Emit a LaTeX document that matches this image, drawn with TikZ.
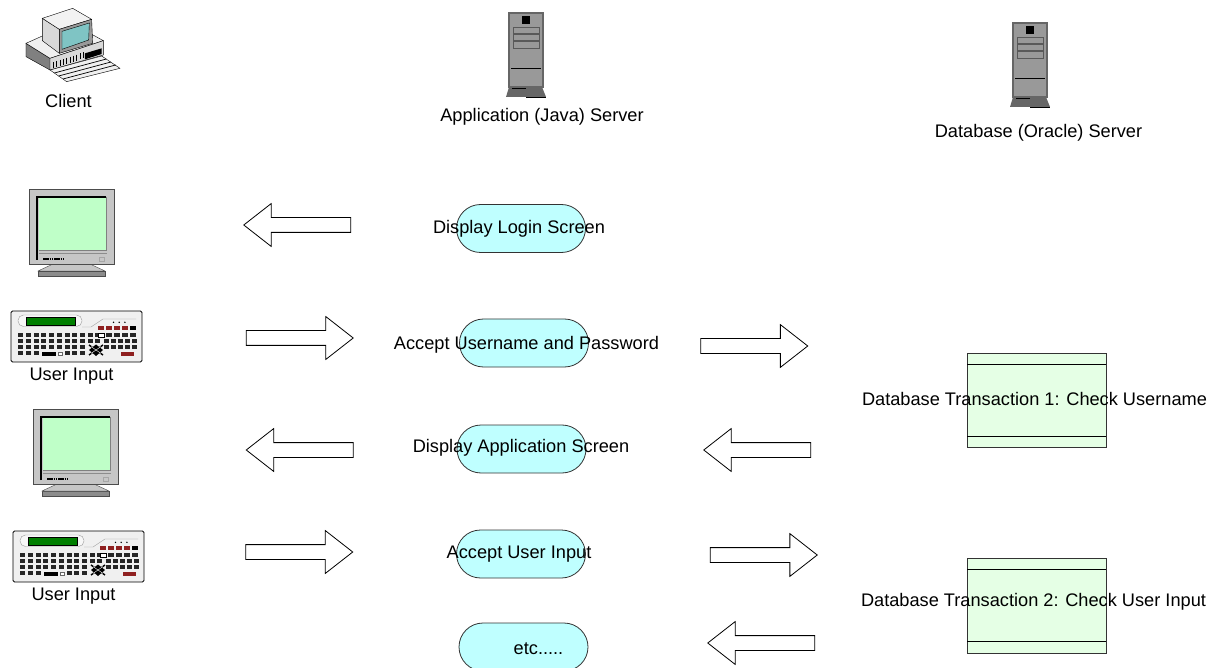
\documentclass[tikz,border=0pt]{standalone}
\usepackage{fontspec}
\setmainfont{Liberation Sans}
\usetikzlibrary{shapes.arrows,shapes.misc}
\definecolor{procfill}{HTML}{BFFFFF}
\definecolor{dbfill}{HTML}{E5FFE5}
\definecolor{screenfill}{HTML}{BFFFC8}
\definecolor{bezelgray}{HTML}{C6C6C6}
\definecolor{servergray}{HTML}{999999}
\definecolor{serverdark}{HTML}{666666}
\definecolor{clientteal}{HTML}{7FC4C4}
\definecolor{lcdgreen}{HTML}{007F00}
\definecolor{keyred}{HTML}{8F2020}
\tikzset{
  rightblock/.style={draw=black,fill=white,line width=0.8pt,single arrow,inner xsep=0pt,inner ysep=7pt,
    minimum width=42pt,minimum height=107pt,single arrow head extend=14pt,
    single arrow tip angle=76,xshift=-4.5pt},
  leftblock/.style={rightblock,shape border rotate=180,xshift=9pt},
  procbox/.style={draw=black!80,fill=procfill,line width=0.8pt,rounded rectangle,inner sep=0pt,
    minimum width=129pt,minimum height=48pt},
  lbl/.style={inner sep=0pt,text height=15pt,text depth=1pt,font=\fontsize{18.2}{20}\selectfont},
  monitor/.pic={
    \draw[draw=black!70,fill=black!45] (9,82) -- (9,87) -- (76,87) -- (76,82) -- cycle;
    \draw[draw=black!70,fill=bezelgray] (24,75) -- (9,82) -- (76,82) -- (61,75) -- cycle;
    \draw[draw=black!70,fill=bezelgray] (0,0) rectangle (85,75);
    \fill[screenfill] (10,8) rectangle (77,61);
    \draw[black!50] (10,61) -- (77,61) -- (77,8);
    \draw[black!45] (10,64) -- (78,64);
    \draw[line width=1.3pt] (8,71) -- (8,8) -- (77,8);
    \draw[line width=1.8pt,dash pattern=on 1.5pt off 0.7pt] (14,70) -- (36,70);
    \draw[black!35] (70,68) rectangle (75,72);
  },
  keyboard/.pic={
    \draw[line width=0.9pt,fill=black!6,rounded corners=1.5pt] (0,0) rectangle (131,51);
    \draw[black!40,fill=black!3,rounded corners=5.5pt] (7,4) rectangle (71,15.5);
    \draw[black!40] (71,16) -- (80,16) -- (92,8) -- (125,8);
    \draw[fill=lcdgreen] (15,6) rectangle (64,14);
    \foreach \col in {0,...,10}
      \foreach \row in {22,28,34,40}
        \fill[black!85] (7.3+7.7*\col,\row) rectangle +(5,4);
    \foreach \col in {0,...,4}
      \fill[black!85] (87+8*\col,22) rectangle +(5.5,4);
    \foreach \col in {0,...,4}
      \foreach \row in {28,34}
        \fill[black!85] (93+7*\col,\row) rectangle +(5,4);
    \foreach \col in {0,...,3}
      \fill[keyred] (87+8*\col,15) rectangle +(5.5,4);
    \fill (119,15) rectangle +(6,4);
    \foreach \col in {0,1,2}
      \fill (102.5+5.7*\col,11.3) circle (0.8);
    \fill[white,draw=black] (87,22) rectangle +(6,4);
    \fill[black!6] (29,40) rectangle (53,45);
    \fill (30.7,41) rectangle (45,44.5);
    \fill[white,draw=black!60] (47.5,41) rectangle (51.5,44.5);
    \fill[black!6] (77,33) rectangle (93,45);
    \fill (78,39) -- (85,33.5) -- (92,39) -- (85,45) -- cycle;
    \draw[line width=1.4pt] (78,34) -- (92,44) (92,34) -- (78,44);
    \draw[white,line width=0.4pt] (80,35.5) -- (90,42.5) (90,35.5) -- (80,42.5);
    \fill[keyred] (110,41) rectangle (123,44.5);
  },
  server/.pic={
    \fill[serverdark] (0,74) -- (-3,84) -- (37,84) -- (33,74) -- cycle;
    \draw[line width=0.9pt] (3,75) -- (17,75) (17,84) -- (37,84);
    \draw[draw=serverdark,line width=1.2pt,fill=servergray] (0,0) rectangle (34,74);
    \fill (12.5,3.5) rectangle (21,11);
    \foreach \top/\bot in {14/20,21/27.5,28.5/35}
      \draw[draw=black!65,line width=0.8pt] (4,\top) rectangle (30,\bot);
    \draw[line width=1pt] (2,56) -- (32,56);
  },
  clientpc/.pic={
    \begin{scope}[scale=1/3]
      \draw[fill=black!50] (78,130) -- (150,175) -- (150,210) -- (78,170) -- cycle;
      \draw[fill=black!6] (78,130) -- (127,108) -- (270,100) -- (310,122) -- (150,175) -- cycle;
      \draw[fill=black!15] (150,175) -- (310,122) -- (310,165) -- (150,210) -- cycle;
      \draw[fill=black!15] (127,55) -- (178,88) -- (178,160) -- (127,122) -- cycle;
      \draw[fill=black!5] (127,55) -- (218,25) -- (275,58) -- (178,88) -- cycle;
      \draw[fill=black!40] (178,88) -- (275,58) -- (278,130) -- (178,160) -- cycle;
      \draw[fill=clientteal] (186,94) -- (268,69) -- (266,120) -- (186,148) -- cycle;
      \fill (255,160) -- (305,145) -- (305,162) -- (255,178) -- cycle;
      \foreach \i in {0,...,9}
        \draw[line width=0.9pt] (160+10*\i,186-3.2*\i) -- +(0,18);
      \draw[fill=black!6] (150,210) -- (305,168) -- (360,205) -- (200,245) -- cycle;
      \foreach \i in {1,2,3}
        \draw[line width=0.7pt] (150+13*\i,210+9*\i) -- (305+14*\i,168+9*\i);
    \end{scope}
  }
}
\begin{document}
\begin{tikzpicture}[x=1pt,y=-1pt]
  \useasboundingbox (0,0) rectangle (1213,668);
  \clip (0,0) rectangle (1213,668);
  % Rechner oben
  \pic at (0,0) {clientpc};
  \pic at (509,13) {server};
  \pic at (1013,23) {server};
  \node[lbl] (clientlabel) at (68.5,101) {Client};
  \node[lbl] (appserverlabel) at (542,115) {Application (Java) Server};
  \node[lbl] (dbserverlabel) at (1038.5,131) {Database (Oracle) Server};
  % Bildschirme und Tastaturen
  \pic at (29,189) {monitor};
  \pic at (33,409) {monitor};
  \pic at (11,311) {keyboard};
  \pic at (13,531) {keyboard};
  \node[lbl] (inputlabela) at (71.5,374) {User Input};
  \node[lbl] (inputlabelb) at (73.5,593.5) {User Input};
  % Blockpfeile
  \node[leftblock] (arrowa) at (297.5,225) {};
  \node[rightblock] (arrowb) at (299.5,338) {};
  \node[leftblock] (arrowc) at (300,450) {};
  \node[rightblock] (arrowd) at (299,552) {};
  \node[rightblock] (arrowe) at (754,346) {};
  \node[leftblock] (arrowf) at (757.5,450) {};
  \node[rightblock] (arrowg) at (763.5,555) {};
  \node[leftblock] (arrowh) at (761.5,643) {};
  % Prozesse
  \node[procbox] (login) at (521,228.5) {};
  \node[procbox] (accept) at (524,343) {};
  \node[procbox] (display) at (521.5,449) {};
  \node[procbox] (userinput) at (521,554) {};
  \node[procbox] (etc) at (523.5,647) {};
  \node[lbl] (loginlabel) at (519,227) {Display Login Screen};
  \node[lbl] (acceptlabel) at (526.5,342) {Accept Username and Password};
  \node[lbl] (displaylabel) at (521,445) {Display Application Screen};
  \node[lbl] (userinputlabel) at (519,551) {Accept User Input};
  \node[lbl] (etclabel) at (538.5,647) {etc.....};
  % Datenbank-Transaktionen
  \draw[draw=black!80,fill=dbfill,line width=0.8pt] (967,353) rectangle (1106,447);
  \draw[line width=0.8pt] (967,364) -- (1106,364) (967,436) -- (1106,436);
  \draw[draw=black!80,fill=dbfill,line width=0.8pt] (967,558) rectangle (1106,653);
  \draw[line width=0.8pt] (967,569) -- (1106,569) (967,641) -- (1106,641);
  \node[lbl] (transa) at (1034.5,398) {Database Transaction 1: Check Username};
  \node[lbl] (transb) at (1033.5,599) {Database Transaction 2: Check User Input};
\end{tikzpicture}
\end{document}
